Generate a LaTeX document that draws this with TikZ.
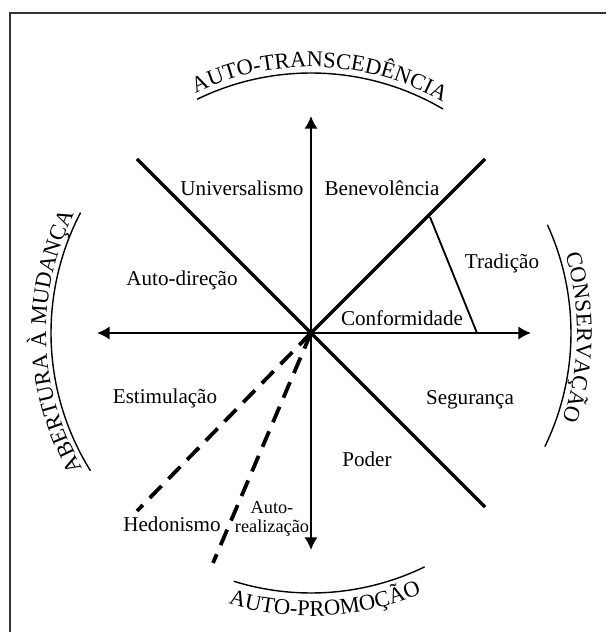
\documentclass[tikz,border=0pt]{standalone}
\usepackage{fontspec}
\setmainfont{Liberation Serif}
\usetikzlibrary{arrows.meta,decorations.text}

\newcommand{\polofonte}{\fontsize{16}{18}\selectfont}

\begin{document}
\begin{tikzpicture}[x=0.025cm, y=0.025cm,
    eixo/.style={line width=1.4pt, -{Latex[length=9pt,width=9.5pt]}},
    diagonal/.style={line width=2.4pt},
    tracejada/.style={line width=2.7pt, dash pattern=on 12pt off 7pt},
    contorno/.style={line width=1pt},
    valor/.style={font=\fontsize{15}{17}\selectfont, inner sep=0pt},
    polo/.style={decoration={text along path, text align=center, text={|\polofonte|#1}}, decorate}]

\useasboundingbox (-311,-299) rectangle (295,333);

% Moldura
\draw[line width=1.3pt, black!80] (295,320) -- (-301,320) -- (-301,-299);

% --- Pontos dos eixos ---
\coordinate (centro) at (0,0);
\coordinate (topo) at (0,217);
\coordinate (base) at (0,-217);
\coordinate (esq) at (-214,0);
\coordinate (dir) at (220,0);
\coordinate (no) at (-174,174);
\coordinate (ne) at (174,174);
\coordinate (se) at (174,-174);
\coordinate (hedon) at (-174,-178);
\coordinate (autor) at (-98,-230);
\coordinate (trad1) at (119,116);
\coordinate (trad2) at (166,0);

% Eixos com seta
\foreach \fim in {topo,base,esq,dir} {
    \draw[eixo] (centro) -- (\fim);
}

% Diagonais
\draw[diagonal] (no) -- (se);
\draw[diagonal] (centro) -- (ne);
\foreach \fim in {hedon,autor} {
    \draw[tracejada] (centro) -- (\fim);
}
\draw[line width=1.3pt] (trad1) -- (trad2);

% --- Valores ---
\node[valor] (univ) at (-69,145) {Universalismo};
\node[valor] (bene) at (71,145) {Benevolência};
\node[valor] (trad) at (191,70) {Tradição};
\node[valor] (conf) at (91,15) {Conformidade};
\node[valor] (autodir) at (-129,53) {Auto-direção};
\node[valor] (estim) at (-146,-65) {Estimulação};
\node[valor] (seg) at (159,-67) {Segurança};
\node[valor] (poder) at (56,-126) {Poder};
\node[valor] (hedo) at (-139,-191) {Hedonismo};
\node[valor, font=\fontsize{13}{13.5}\selectfont, align=center] (autoreal) at (-39,-186) {Auto-\\realização};

% --- Dimensões (arcos) ---
\draw[contorno] (centro) ++(116:260) arc[start angle=116, end angle=59.5, radius=260];
\draw[contorno] (centro) ++(212:260) arc[start angle=212, end angle=152.4, radius=260];
\draw[contorno] (centro) ++(24.6:260) arc[start angle=24.6, end angle=-25.9, radius=260];
\draw[contorno] (centro) ++(252.7:260) arc[start angle=252.7, end angle=295.9, radius=260];

\path[polo=AUTO-TRANSCEDÊNCIA] (centro) ++(128:266) arc[start angle=128, end angle=48, radius=266];
\path[polo=ABERTURA À MUDANÇA] (centro) ++(218:265) arc[start angle=218, end angle=146, radius=265];
\path[polo=CONSERVAÇÃO] (centro) ++(34:266) arc[start angle=34, end angle=-36, radius=266];
\path[polo=AUTO-PROMOÇÃO] (centro) ++(238:283) arc[start angle=238, end angle=308, radius=283];

\end{tikzpicture}
\end{document}
